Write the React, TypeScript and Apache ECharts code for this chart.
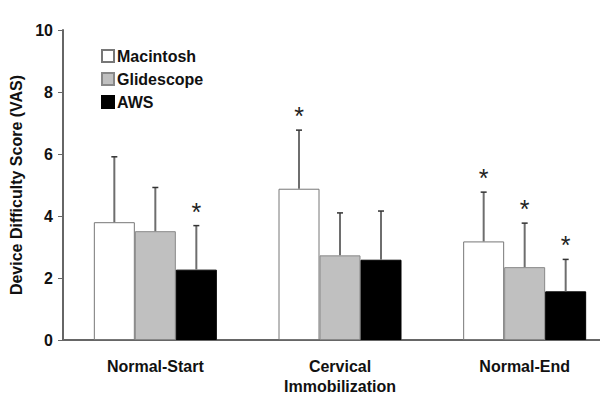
import React, { useEffect, useRef } from "react";
import * as echarts from "echarts";

const categories = ["Normal-Start", "Cervical\nImmobilization", "Normal-End"];
const devices = ["Macintosh", "Glidescope", "AWS"];
const macintosh = [3.8, 4.88, 3.18];
const macintoshUpper = [5.91, 6.77, 4.77];
const macintoshSig = [0, 1, 1];
const glidescope = [3.51, 2.73, 2.35];
const glidescopeUpper = [4.92, 4.1, 3.77];
const glidescopeSig = [0, 0, 1];
const aws = [2.27, 2.59, 1.57];
const awsUpper = [3.69, 4.16, 2.6];
const awsSig = [1, 0, 1];
const yTicks = [0, 2, 4, 6, 8, 10];

const BAR_W = 41;
const FONT = "Liberation Sans, Arial, sans-serif";

export default function App() {
  const ref = useRef<HTMLDivElement>(null);
  useEffect(() => {
    if (!ref.current) return;
    document.body.style.margin = "0";
    const chart = echarts.init(ref.current, null, { renderer: "svg" });
    const styles = [
      { color: "#ffffff", borderColor: "#777777", borderWidth: 1 },
      { color: "#c0c0c0", borderColor: "#888888", borderWidth: 1 },
      { color: "#000000", borderColor: "#000000", borderWidth: 1 },
    ];
    const means = [macintosh, glidescope, aws];
    const uppers = [macintoshUpper, glidescopeUpper, awsUpper];
    const sigs = [macintoshSig, glidescopeSig, awsSig];

    const barSeries = devices.map((name, i) => ({
      name,
      type: "bar",
      data: means[i],
      barWidth: BAR_W,
      barGap: "0%",
      itemStyle: styles[i],
      z: 2,
    }));

    const errSeries = devices.map((name, i) => {
      const offset = (i - 1) * BAR_W;
      return {
        name: name + "-err",
        type: "custom",
        clip: false,
        z: 5,
        encode: { x: 0, y: 1 },
        data: categories.map((_, c) => [c, uppers[i][c], means[i][c], sigs[i][c]]),
        renderItem: (params: any, api: any) => {
          const c = api.value(0);
          const top = api.coord([c, api.value(1)]);
          const base = api.coord([c, api.value(2)]);
          const x = base[0] + offset;
          const children: any[] = [
            {
              type: "line",
              shape: { x1: x, y1: base[1], x2: x, y2: top[1] },
              style: { stroke: "#6e6e6e", lineWidth: 2 },
            },
            {
              type: "line",
              shape: { x1: x - 3, y1: top[1], x2: x + 3, y2: top[1] },
              style: { stroke: "#333333", lineWidth: 1.5 },
            },
          ];
          if (api.value(3) === 1) {
            children.push({
              type: "text",
              x,
              y: top[1] - 14,
              style: {
                text: "*",
                fontSize: 25,
                fontFamily: FONT,
                fill: "#222222",
                align: "center",
                verticalAlign: "middle",
              },
            });
          }
          return { type: "group", children };
        },
      };
    });

    chart.setOption({
      animation: false,
      backgroundColor: "#ffffff",
      grid: { left: 63, top: 30, bottom: 80, right: 0 },
      legend: {
        data: devices,
        orient: "vertical",
        left: 96,
        top: 43,
        itemWidth: 12,
        itemHeight: 12,
        itemGap: 7,
        icon: "rect",
        textStyle: {
          fontSize: 16,
          fontWeight: "bold",
          fontFamily: FONT,
          color: "#111111",
          lineHeight: 16,
          padding: [0, 0, 0, -2],
        },
      },
      xAxis: {
        type: "category",
        data: categories,
        axisLine: { lineStyle: { color: "#666666", width: 2 } },
        axisTick: { show: false },
        axisLabel: {
          fontSize: 16,
          fontWeight: "bold",
          fontFamily: FONT,
          color: "#111111",
          margin: 16,
          lineHeight: 20,
        },
      },
      yAxis: {
        type: "value",
        min: yTicks[0],
        max: yTicks[yTicks.length - 1],
        interval: 2,
        name: "Device Difficulty Score (VAS)",
        nameLocation: "middle",
        nameGap: 35,
        nameTextStyle: {
          fontSize: 16,
          fontWeight: "bold",
          fontFamily: FONT,
          color: "#111111",
        },
        splitLine: { show: false },
        axisLine: { show: true, lineStyle: { color: "#666666", width: 2 } },
        axisTick: { show: true, length: 5, lineStyle: { color: "#666666", width: 1 } },
        axisLabel: {
          fontSize: 16,
          fontWeight: "bold",
          fontFamily: FONT,
          color: "#111111",
          margin: 10,
        },
      },
      series: [...barSeries, ...errSeries],
    });
    return () => chart.dispose();
  }, []);
  return (
    <div style={{ width: 600, height: 420, overflow: "hidden", position: "relative" }}>
      <div ref={ref} style={{ width: 617, height: 420 }} />
    </div>
  );
}
